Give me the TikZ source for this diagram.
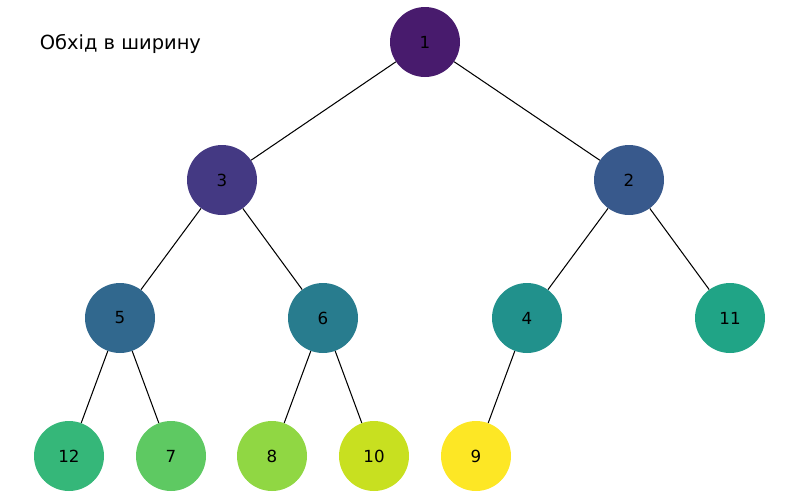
\documentclass[tikz,border=0pt]{standalone}
\usepackage{fontspec}
\setmainfont{DejaVu Sans}
\usepackage{tikz}
\definecolor{c1}{HTML}{481B6D}
\definecolor{c2}{HTML}{38598C}
\definecolor{c3}{HTML}{443983}
\definecolor{c4}{HTML}{21918C}
\definecolor{c5}{HTML}{31688E}
\definecolor{c6}{HTML}{287C8E}
\definecolor{c7}{HTML}{5EC962}
\definecolor{c8}{HTML}{90D743}
\definecolor{c9}{HTML}{FDE725}
\definecolor{c10}{HTML}{C8E020}
\definecolor{c11}{HTML}{20A486}
\definecolor{c12}{HTML}{35B779}
\tikzset{
    vertex/.style={circle,inner sep=0pt,minimum size=50.4pt,font=\fontsize{12}{14}\selectfont},
    edge/.style={black,line width=0.75pt}
    }
\begin{document}
\begin{tikzpicture}[x=0.72pt,y=-0.72pt]
        \useasboundingbox (0,0) rectangle (800,500);

        % title
        \node[anchor=west, font=\fontsize{14}{16}\selectfont] (title) at (35,44) {Обхід в ширину};

        % vertices
        \node[vertex, fill=c1] (1) at (425,42) {1};
        \node[vertex, fill=c3] (3) at (222,180) {3};
        \node[vertex, fill=c2] (2) at (629,180) {2};
        \node[vertex, fill=c5] (5) at (120,318) {5};
        \node[vertex, fill=c6] (6) at (323,318) {6};
        \node[vertex, fill=c4] (4) at (527,318) {4};
        \node[vertex, fill=c11] (11) at (730,318) {11};
        \node[vertex, fill=c12] (12) at (69,456) {12};
        \node[vertex, fill=c7] (7) at (171,456) {7};
        \node[vertex, fill=c8] (8) at (272,456) {8};
        \node[vertex, fill=c10] (10) at (374,456) {10};
        \node[vertex, fill=c9] (9) at (476,456) {9};

        % edges
        \draw[edge] (1) -- (3);
        \draw[edge] (1) -- (2);
        \draw[edge] (3) -- (5);
        \draw[edge] (3) -- (6);
        \draw[edge] (2) -- (4);
        \draw[edge] (2) -- (11);
        \draw[edge] (5) -- (12);
        \draw[edge] (5) -- (7);
        \draw[edge] (6) -- (8);
        \draw[edge] (6) -- (10);
        \draw[edge] (4) -- (9);
    \end{tikzpicture}
\end{document}
